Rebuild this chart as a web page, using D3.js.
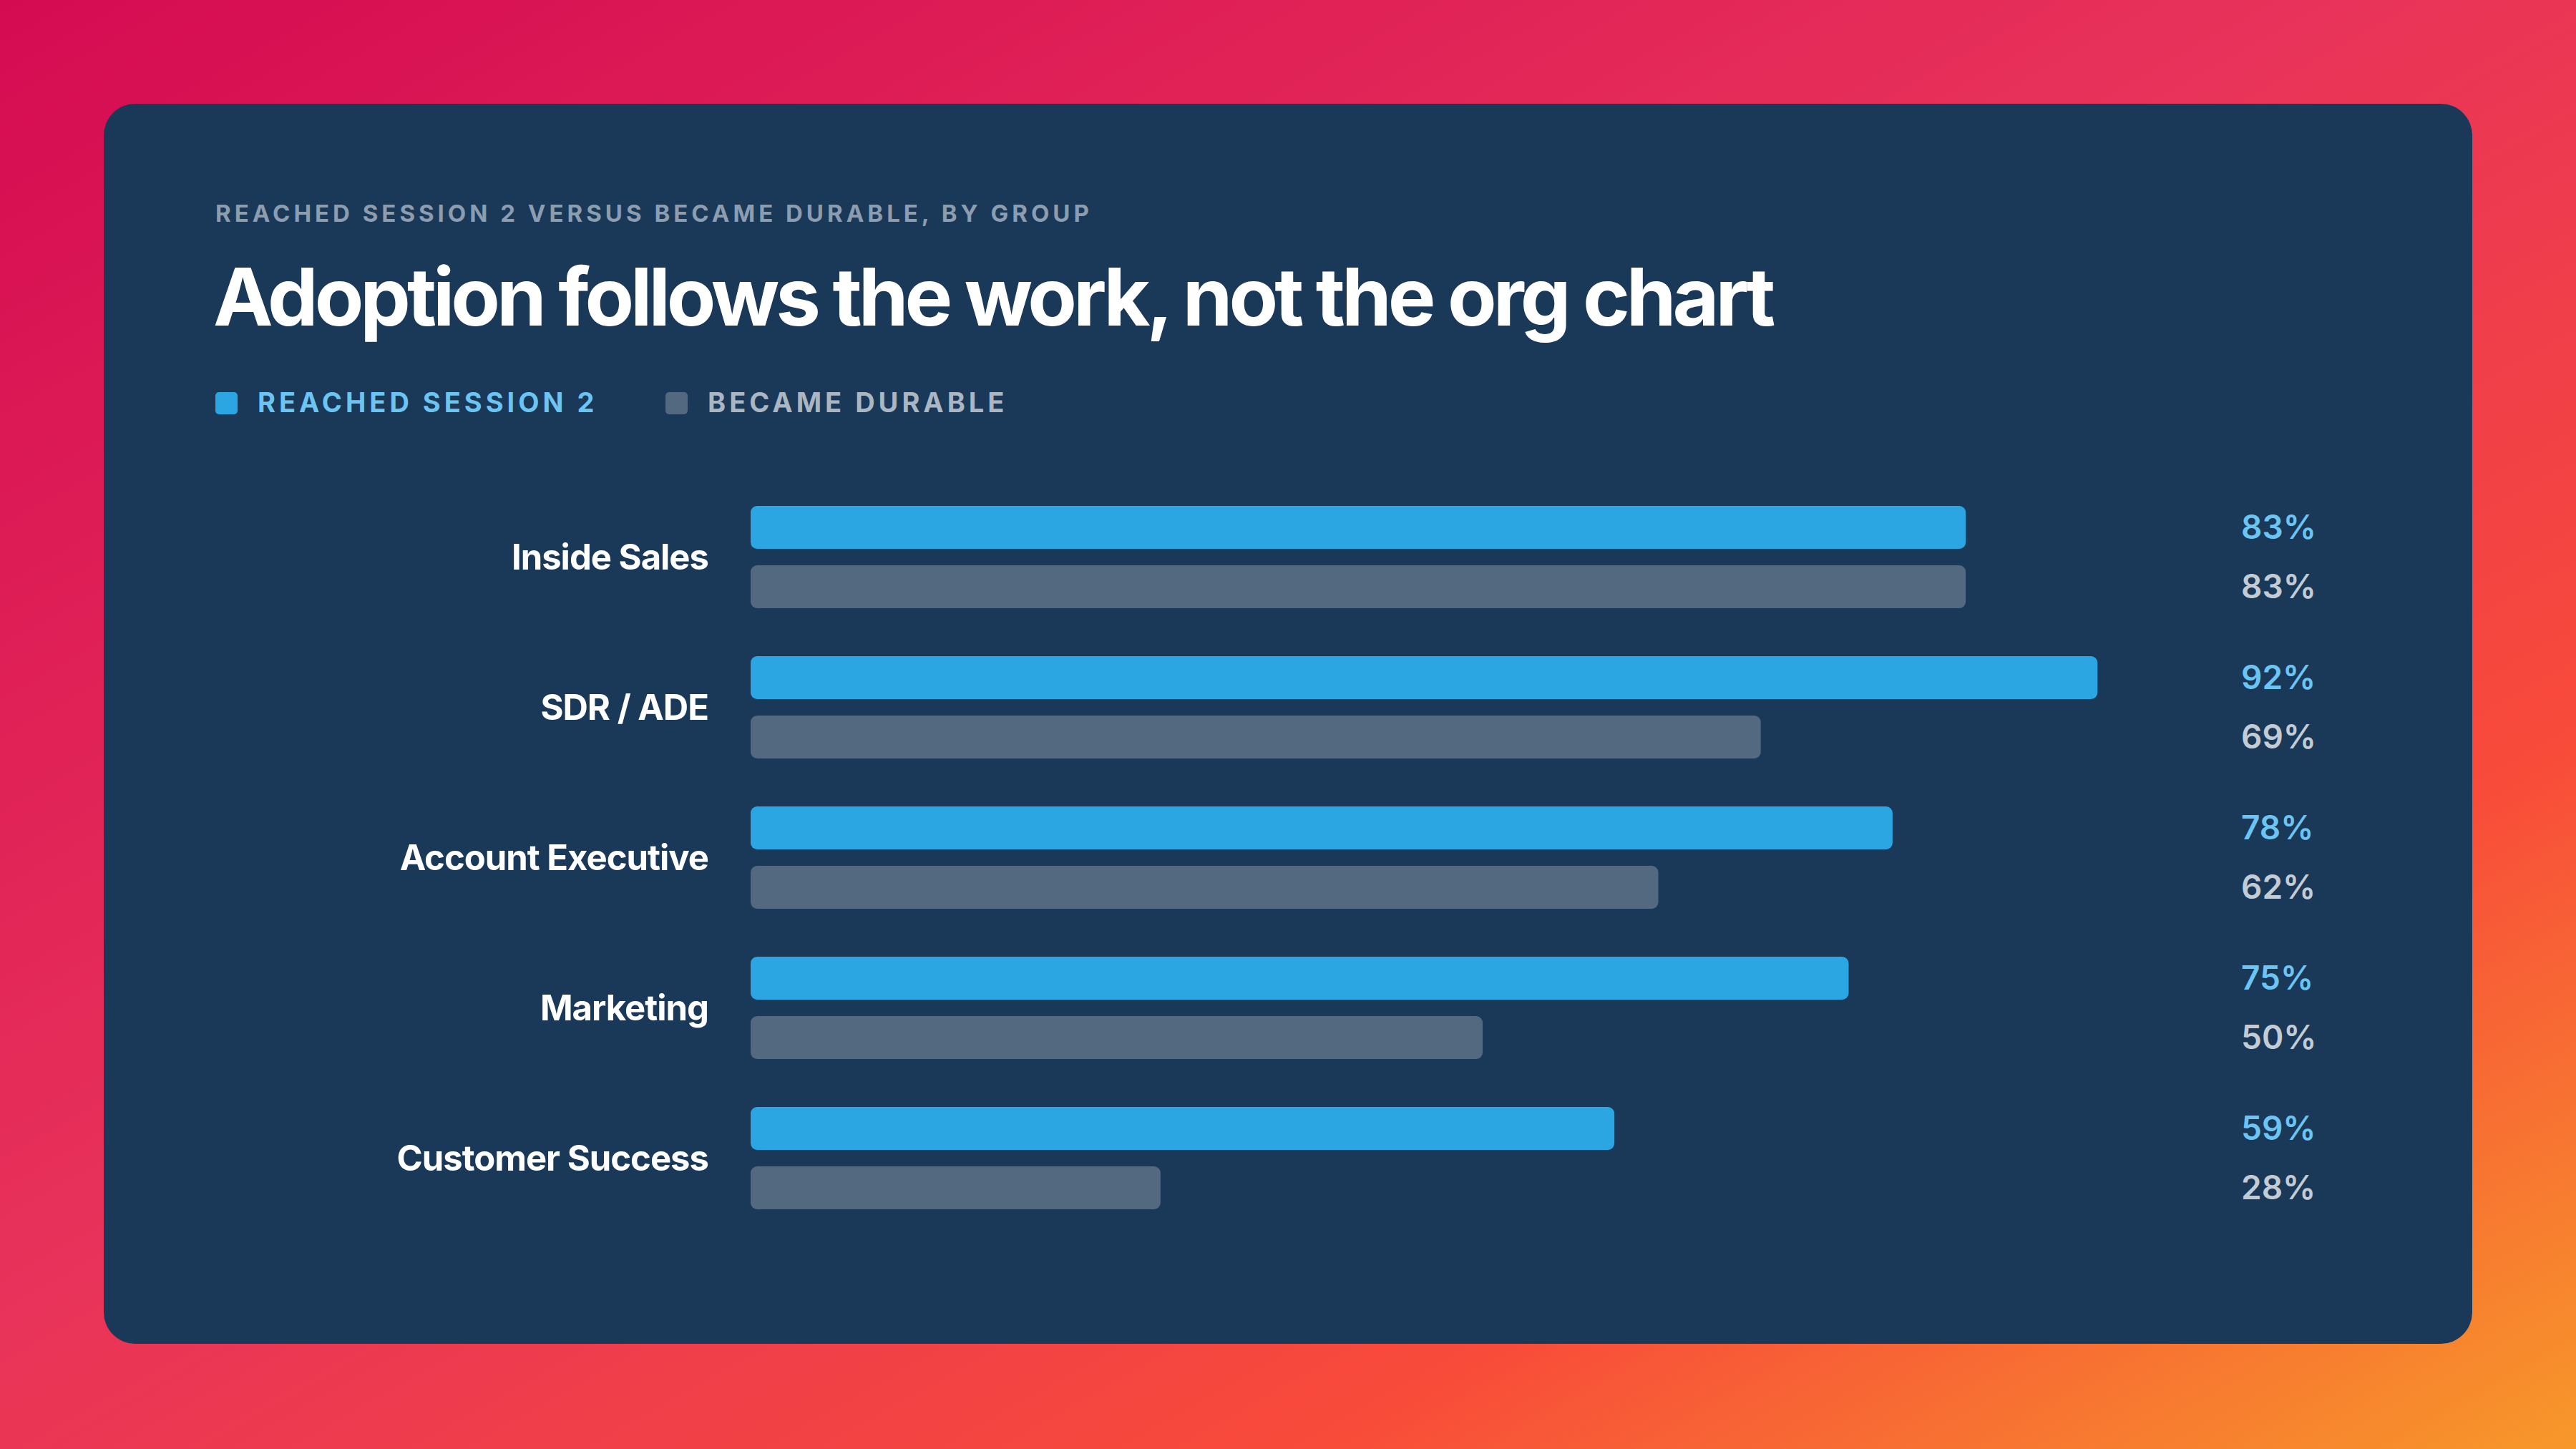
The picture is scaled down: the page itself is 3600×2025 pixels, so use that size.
<!DOCTYPE html>
<html>
<head>
<meta charset="utf-8">
<script src="https://cdn.jsdelivr.net/npm/d3@7"></script>
<style>
  html, body { margin: 0; padding: 0; }
  body { width: 3600px; height: 2025px; overflow: hidden; font-family: Inter, "Noto Sans", sans-serif; }
</style>
</head>
<body>
<svg id="chart" width="3600" height="2025"></svg>
<script>
// data
const groups = ["Inside Sales", "SDR / ADE", "Account Executive", "Marketing", "Customer Success"];
const reachedSession2 = [83, 92, 78, 75, 59];
const becameDurable = [83, 69, 62, 50, 28];
const seriesNames = ["REACHED SESSION 2", "BECAME DURABLE"];

const svg = d3.select("#chart");

// background gradient
const defs = svg.append("defs");
const lg = defs.append("linearGradient")
    .attr("id", "bg")
    .attr("x1", 0).attr("y1", 0)
    .attr("x2", 1).attr("y2", 1);
lg.append("stop").attr("offset", "0%").attr("stop-color", "#d50b52");
lg.append("stop").attr("offset", "45%").attr("stop-color", "#e8325a");
lg.append("stop").attr("offset", "75%").attr("stop-color", "#f84a3a");
lg.append("stop").attr("offset", "100%").attr("stop-color", "#f7982a");
svg.append("rect").attr("width", 3600).attr("height", 2025).attr("fill", "url(#bg)");

// card
svg.append("rect")
    .attr("x", 145).attr("y", 145)
    .attr("width", 3310).attr("height", 1733)
    .attr("rx", 44)
    .attr("fill", "#1a3858");

// titles
svg.append("text")
    .attr("x", 301).attr("y", 310)
    .attr("fill", "#8d9db0")
    .attr("font-size", 33).attr("font-weight", 700)
    .attr("letter-spacing", 5)
    .text("REACHED SESSION 2 VERSUS BECAME DURABLE, BY GROUP");

svg.append("text")
    .attr("x", 298).attr("y", 455)
    .attr("fill", "#ffffff")
    .attr("font-size", 112).attr("font-weight", 700)
    .attr("letter-spacing", -5)
    .text("Adoption follows the work, not the org chart");

// legend
const colors = ["#2ba6e3", "#52697f"];
const legendText = ["#6cc4f2", "#aab6c2"];
const legendX = [301, 930];
seriesNames.forEach((name, i) => {
    svg.append("rect")
        .attr("x", legendX[i]).attr("y", 548)
        .attr("width", 31).attr("height", 31).attr("rx", 5)
        .attr("fill", colors[i]);
    svg.append("text")
        .attr("x", legendX[i] + 59).attr("y", 576)
        .attr("fill", legendText[i])
        .attr("font-size", 38).attr("font-weight", 700)
        .attr("letter-spacing", 5)
        .text(name);
});

// scales
const x = d3.scaleLinear().domain([0, 100]).range([1049, 1049 + 2046]);
const y = d3.scaleBand().domain(groups).range([697, 697 + 210 * groups.length]).paddingInner(0);
const barH = 60, gap = 23;

const g = svg.append("g");
groups.forEach((grp, i) => {
    const top = y(grp) + 10;
    const vals = [reachedSession2[i], becameDurable[i]];
    vals.forEach((v, j) => {
        const by = top + j * (barH + gap);
        g.append("rect")
            .attr("x", x(0)).attr("y", by)
            .attr("width", x(v) - x(0)).attr("height", barH)
            .attr("rx", 9)
            .attr("fill", colors[j]);
        g.append("text")
            .attr("x", 3132).attr("y", by + barH / 2 + 16)
            .attr("fill", j === 0 ? "#6cc4f2" : "#c3cbd4")
            .attr("font-size", 46).attr("font-weight", 600)
            .text(v + "%");
    });
    g.append("text")
        .attr("x", 990).attr("y", top + barH + gap / 2 + 17)
        .attr("text-anchor", "end")
        .attr("fill", "#ffffff")
        .attr("font-size", 49).attr("font-weight", 700)
        .attr("letter-spacing", -1)
        .text(grp);
});
</script>
</body>
</html>
